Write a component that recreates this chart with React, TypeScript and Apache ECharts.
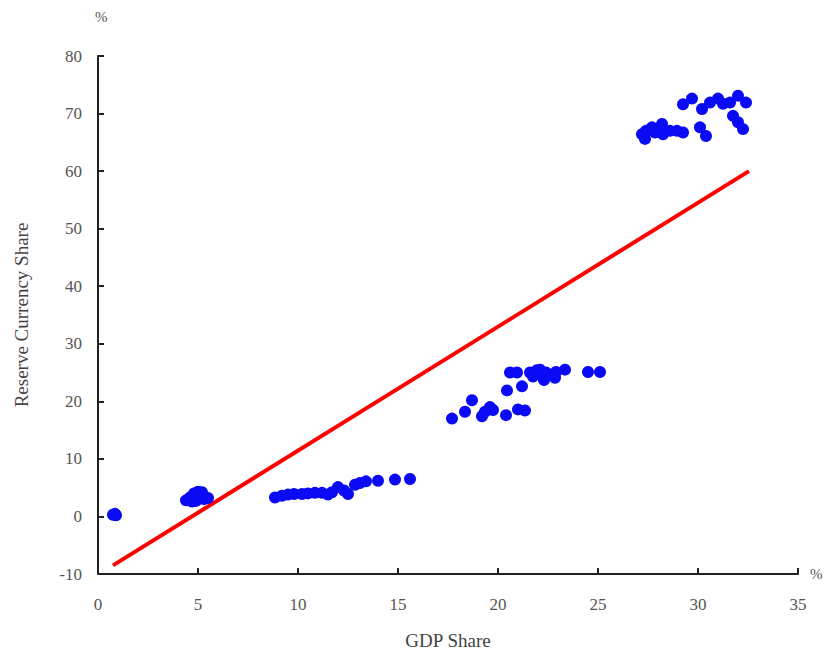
import React, { useEffect, useRef } from "react";
import * as echarts from "echarts";

const xTicks = [0, 5, 10, 15, 20, 25, 30, 35];
const yTicks = [-10, 0, 10, 20, 30, 40, 50, 60, 70, 80];

const pointsNearZero: [number, number][] = [
  [0.75, 0.3], [0.85, 0.45], [0.9, 0.2],
];
const pointsNearFive: [number, number][] = [
  [4.4, 2.8], [4.6, 3.3], [4.7, 2.6], [4.8, 4.0], [4.9, 2.7], [5.0, 4.3],
  [5.1, 3.5], [5.2, 4.2], [5.3, 3.0], [5.5, 3.2],
];
const pointsLow: [number, number][] = [
  [8.85, 3.3], [9.2, 3.6], [9.5, 3.8], [9.8, 3.9], [10.2, 3.9], [10.5, 4.0],
  [10.85, 4.1], [11.2, 4.1], [11.5, 3.8], [11.7, 4.2], [12.0, 5.1], [12.3, 4.5],
  [12.5, 3.9], [12.85, 5.5], [13.1, 5.8], [13.4, 6.1], [14.0, 6.2], [14.85, 6.4],
  [15.6, 6.5],
];
const pointsMid: [number, number][] = [
  [17.7, 17.0], [18.35, 18.2], [18.7, 20.2], [19.2, 17.4], [19.35, 18.2],
  [19.6, 19.0], [19.75, 18.5], [20.4, 17.6], [21.0, 18.6], [21.35, 18.4],
  [20.45, 21.9], [21.2, 22.6], [20.6, 25.0], [20.95, 25.0], [21.6, 25.0],
  [21.75, 24.3], [21.95, 25.4], [22.1, 25.5], [22.2, 24.6], [22.3, 23.7],
  [22.4, 25.0], [22.85, 24.1], [22.9, 25.1], [23.35, 25.5], [24.5, 25.1],
  [25.1, 25.1],
];
const pointsHigh: [number, number][] = [
  [27.2, 66.4], [27.35, 65.6], [27.4, 67.0], [27.7, 67.6], [27.85, 66.7],
  [28.2, 68.2], [28.25, 66.4], [28.6, 67.0], [28.95, 67.0], [29.25, 66.7],
  [29.25, 71.6], [29.7, 72.6], [30.1, 67.6], [30.4, 66.1], [30.2, 70.8],
  [30.6, 71.9], [31.0, 72.6], [31.25, 71.7], [31.6, 71.9], [32.0, 73.1],
  [32.4, 71.9], [31.75, 69.6], [32.0, 68.5], [32.25, 67.3],
];
const fitLine: [number, number][] = [
  [0.75, -8.5], [32.55, 60.0],
];

const scatterData = [
  ...pointsNearZero, ...pointsNearFive, ...pointsLow, ...pointsMid, ...pointsHigh,
];

export default function App() {
  const ref = useRef<HTMLDivElement>(null);
  useEffect(() => {
    if (!ref.current) return;
    const chart = echarts.init(ref.current, null, { renderer: "svg" });
    const font = "Liberation Serif";
    chart.setOption({
      animation: false,
      backgroundColor: "#ffffff",
      textStyle: { fontFamily: font },
      grid: { left: 98, right: 31, top: 56, bottom: 85, containLabel: false },
      xAxis: {
        type: "value",
        min: xTicks[0],
        max: xTicks[xTicks.length - 1],
        interval: 5,
        name: "GDP Share",
        nameLocation: "middle",
        nameGap: 57,
        nameTextStyle: { fontFamily: font, fontSize: 19, color: "#444" },
        axisLine: { show: true, onZero: false, lineStyle: { color: "#222", width: 2 } },
        axisTick: { show: true, inside: true, length: 6, lineStyle: { color: "#222", width: 2 } },
        axisLabel: { fontFamily: font, fontSize: 17, color: "#555", margin: 22 },
        splitLine: { show: false },
      },
      yAxis: {
        type: "value",
        min: yTicks[0],
        max: yTicks[yTicks.length - 1],
        interval: 10,
        name: "Reserve Currency Share",
        nameLocation: "middle",
        nameGap: 67,
        nameTextStyle: { fontFamily: font, fontSize: 19, color: "#444" },
        axisLine: { show: true, onZero: false, lineStyle: { color: "#222", width: 2 } },
        axisTick: { show: true, inside: true, length: 6, lineStyle: { color: "#222", width: 2 } },
        axisLabel: { fontFamily: font, fontSize: 17, color: "#555", margin: 16 },
        splitLine: { show: false },
      },
      graphic: [
        { type: "text", left: 95, top: 9, style: { text: "%", fontFamily: font, fontSize: 15, fill: "#555" } },
        { type: "text", left: 810, top: 566, style: { text: "%", fontFamily: font, fontSize: 15, fill: "#555" } },
      ],
      series: [
        {
          type: "line",
          data: fitLine,
          symbol: "none",
          lineStyle: { color: "#ff0000", width: 4 },
          z: 2,
        },
        {
          type: "scatter",
          data: scatterData,
          symbol: "circle",
          symbolSize: 12,
          itemStyle: { color: "#0a0af5", opacity: 1 },
          z: 3,
        },
      ],
    });
    return () => chart.dispose();
  }, []);
  return (
    <div
      ref={ref}
      style={{ position: "absolute", left: 0, top: 0, width: 829, height: 659 }}
    />
  );
}
